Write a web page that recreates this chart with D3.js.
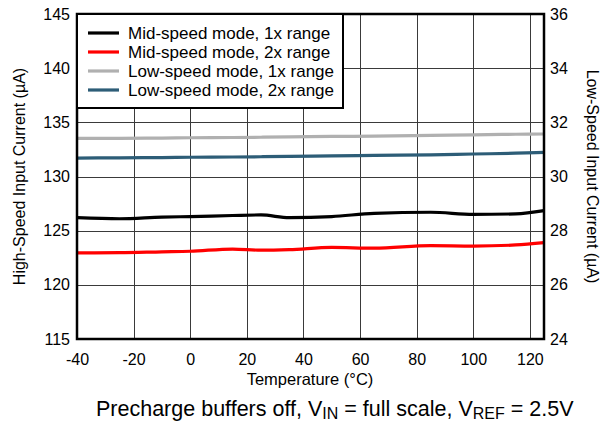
<!DOCTYPE html>
<html><head><meta charset="utf-8">
<script src="https://cdn.jsdelivr.net/npm/d3@7/dist/d3.min.js"></script>
<style>
html,body{margin:0;padding:0;background:#fff;}
svg{display:block;font-family:"Liberation Sans",Arial,sans-serif;}
</style></head>
<body>
<svg id="chart" width="611" height="422"></svg>
<script>
const temps = [-40, -25, -10, 0, 15, 25, 35, 50, 65, 85, 100, 115, 125];
const midSpeed1x = [126.2, 126.1, 126.25, 126.3, 126.4, 126.45, 126.2, 126.3, 126.6, 126.7, 126.5, 126.55, 126.85];
const midSpeed2x = [122.95, 122.97, 123.05, 123.1, 123.3, 123.2, 123.25, 123.45, 123.38, 123.62, 123.58, 123.68, 123.9];
const lowSpeed1x = [31.41, 31.41, 31.42, 31.43, 31.44, 31.45, 31.46, 31.48, 31.49, 31.52, 31.54, 31.56, 31.57];
const lowSpeed2x = [30.68, 30.69, 30.70, 30.71, 30.72, 30.73, 30.74, 30.76, 30.78, 30.80, 30.83, 30.86, 30.89];
const seriesNames = ["Mid-speed mode, 1x range", "Mid-speed mode, 2x range", "Low-speed mode, 1x range", "Low-speed mode, 2x range"];
const seriesColors = ["#000000", "#ff0000", "#b0b0b0", "#2d5d77"];
const xTicks = [-40, -20, 0, 20, 40, 60, 80, 100, 120];
const yLeftTicks = [115, 120, 125, 130, 135, 140, 145];
const yRightTicks = [24, 26, 28, 30, 32, 34, 36];

const L = 77, R = 544, T = 14, B = 339;
const svg = d3.select("#chart");
const x = d3.scaleLinear().domain([-40, 125]).range([L, R]);
const yL = d3.scaleLinear().domain([115, 145]).range([B, T]);
const yR = d3.scaleLinear().domain([24, 36]).range([B, T]);

// grid
const g = svg.append("g");
g.selectAll(".vg").data(xTicks.filter(d => d > -40)).enter().append("line")
  .attr("x1", d => Math.round(x(d)) + 0.5).attr("x2", d => Math.round(x(d)) + 0.5)
  .attr("y1", T).attr("y2", B).attr("stroke", "#3a3a3a").attr("stroke-width", 1);
g.selectAll(".hg").data(yLeftTicks.filter(d => d > 115 && d < 145)).enter().append("line")
  .attr("y1", d => Math.round(yL(d)) + 0.5).attr("y2", d => Math.round(yL(d)) + 0.5)
  .attr("x1", L).attr("x2", R).attr("stroke", "#3a3a3a").attr("stroke-width", 1);

// lines
const line = (ys) => d3.line().x(d => x(d[0])).y(d => ys(d[1])).curve(d3.curveMonotoneX);
const data = [
  {vals: midSpeed1x, s: yL}, {vals: midSpeed2x, s: yL},
  {vals: lowSpeed1x, s: yR}, {vals: lowSpeed2x, s: yR}
];
[2, 3, 1, 0].forEach(i => {
  const d = data[i];
  svg.append("path").datum(temps.map((t, j) => [t, d.vals[j]]))
    .attr("d", line(d.s)).attr("fill", "none")
    .attr("stroke", seriesColors[i]).attr("stroke-width", 3.2);
});

// frame
svg.append("rect").attr("x", L).attr("y", T).attr("width", R - L).attr("height", B - T)
  .attr("fill", "none").attr("stroke", "#000").attr("stroke-width", 2.5);

// axes
const fmt = d => String(d);
const axL = d3.axisLeft(yL).tickValues(yLeftTicks).tickFormat(fmt).tickSize(0).tickPadding(7);
const gl = svg.append("g").attr("transform", `translate(${L},0)`).call(axL);
const axR = d3.axisRight(yR).tickValues(yRightTicks).tickFormat(fmt).tickSize(0).tickPadding(6);
const gr = svg.append("g").attr("transform", `translate(${R},0)`).call(axR);
const axB = d3.axisBottom(x).tickValues(xTicks).tickFormat(fmt).tickSize(0).tickPadding(15);
const gb = svg.append("g").attr("transform", `translate(0,${B})`).call(axB);
[gl, gr, gb].forEach(a => {
  a.select(".domain").remove();
  a.selectAll("text").attr("font-size", 16).attr("fill", "#000")
    .attr("font-family", "'Liberation Sans',Arial,sans-serif");
});

// axis titles
svg.append("text").attr("transform", `translate(25,${(T + B) / 2}) rotate(-90)`)
  .attr("text-anchor", "middle").attr("font-size", 16).text("High-Speed Input Current (µA)");
svg.append("text").attr("transform", `translate(587,${(T + B) / 2}) rotate(90)`)
  .attr("text-anchor", "middle").attr("font-size", 16).text("Low-Speed Input Current (µA)");
svg.append("text").attr("x", 310).attr("y", 385).attr("text-anchor", "middle")
  .attr("font-size", 16.5).text("Temperature (°C)");

// subtitle
const st = svg.append("text").attr("x", 96).attr("y", 416).attr("font-size", 21.5);
st.append("tspan").text("Precharge buffers off, V");
st.append("tspan").attr("dy", 3).attr("font-size", 16).text("IN");
st.append("tspan").attr("dy", -3).text(" = full scale, V");
st.append("tspan").attr("dy", 3).attr("font-size", 16).text("REF");
st.append("tspan").attr("dy", -3).text(" = 2.5V");

// legend
const lg = svg.append("g");
lg.append("rect").attr("x", L).attr("y", T).attr("width", 266).attr("height", 94)
  .attr("fill", "#fff").attr("stroke", "#000").attr("stroke-width", 2);
seriesNames.forEach((n, i) => {
  const cy = 33 + i * 19;
  lg.append("line").attr("x1", 88).attr("x2", 119).attr("y1", cy).attr("y2", cy)
    .attr("stroke", seriesColors[i]).attr("stroke-width", 3.2);
  lg.append("text").attr("x", 128).attr("y", cy + 6).attr("font-size", 17).text(n);
});
</script>
</body></html>
